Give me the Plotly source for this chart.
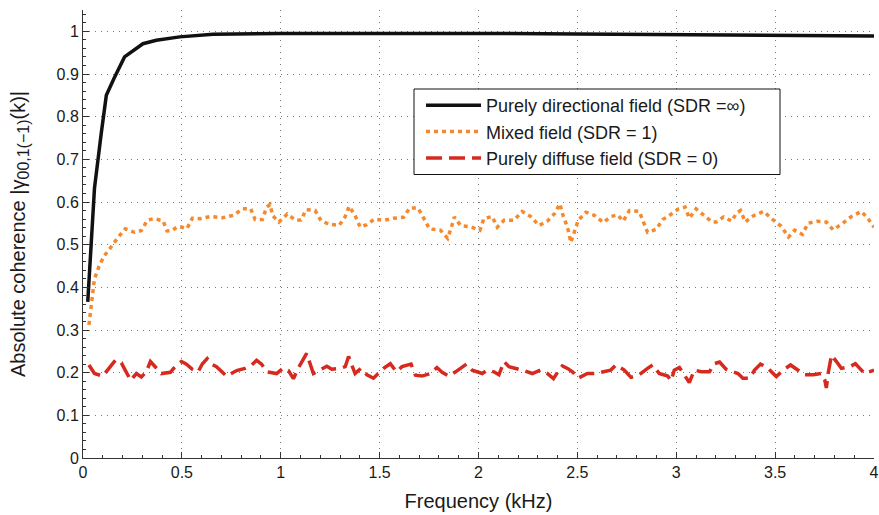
import plotly.graph_objects as go

# ---- data (frequency in kHz, absolute coherence) ----
freq_dir = [0.024, 0.058, 0.092, 0.118, 0.156, 0.210, 0.303, 0.371, 0.489, 0.658,
            1.0, 1.5, 2.0, 2.5, 3.0, 3.5, 3.75, 4.0]
coh_dir = [0.366, 0.632, 0.760, 0.850, 0.889, 0.940, 0.971, 0.979, 0.987, 0.993,
           0.995, 0.996, 0.995, 0.994, 0.993, 0.992, 0.990, 0.989]

freq_mix = [0.030, 0.038, 0.058, 0.080, 0.106, 0.143, 0.177, 0.214, 0.261, 0.295,
            0.325, 0.357, 0.405, 0.425, 0.450, 0.481, 0.526, 0.553, 0.594, 0.645,
            0.704, 0.763, 0.805, 0.848, 0.870, 0.907, 0.929, 0.946, 0.959, 0.991,
            1.033, 1.076, 1.103, 1.128, 1.174, 1.204, 1.243, 1.295, 1.326, 1.346,
            1.376, 1.402, 1.436, 1.474, 1.520, 1.571, 1.621, 1.652, 1.694, 1.723,
            1.752, 1.807, 1.844, 1.863, 1.878, 1.909, 1.965, 2.007, 2.027, 2.069,
            2.095, 2.129, 2.179, 2.221, 2.264, 2.306, 2.348, 2.387, 2.411, 2.429,
            2.450, 2.467, 2.487, 2.504, 2.543, 2.585, 2.631, 2.669, 2.703, 2.732,
            2.763, 2.813, 2.835, 2.855, 2.898, 2.932, 2.970, 3.012, 3.045, 3.066,
            3.100, 3.142, 3.181, 3.202, 3.239, 3.281, 3.303, 3.325, 3.349, 3.391,
            3.442, 3.485, 3.531, 3.568, 3.599, 3.638, 3.666, 3.712, 3.759, 3.793,
            3.839, 3.886, 3.937, 3.971, 4.000]
coh_mix = [0.312, 0.340, 0.420, 0.448, 0.473, 0.495, 0.517, 0.537, 0.529, 0.533,
           0.557, 0.561, 0.556, 0.532, 0.533, 0.543, 0.538, 0.562, 0.561, 0.566,
           0.563, 0.569, 0.584, 0.584, 0.559, 0.559, 0.588, 0.594, 0.568, 0.553,
           0.572, 0.557, 0.558, 0.582, 0.580, 0.556, 0.548, 0.545, 0.566, 0.590,
           0.568, 0.541, 0.547, 0.560, 0.557, 0.562, 0.564, 0.586, 0.586, 0.562,
           0.537, 0.534, 0.515, 0.541, 0.565, 0.545, 0.541, 0.534, 0.561, 0.566,
           0.541, 0.557, 0.557, 0.578, 0.566, 0.545, 0.555, 0.574, 0.596, 0.566,
           0.541, 0.505, 0.530, 0.557, 0.576, 0.569, 0.552, 0.566, 0.570, 0.555,
           0.580, 0.578, 0.552, 0.529, 0.536, 0.559, 0.570, 0.584, 0.588, 0.562,
           0.584, 0.569, 0.553, 0.553, 0.565, 0.555, 0.573, 0.580, 0.553, 0.568,
           0.578, 0.560, 0.543, 0.518, 0.534, 0.524, 0.550, 0.555, 0.553, 0.535,
           0.549, 0.566, 0.578, 0.560, 0.541]

freq_dif = [0.030, 0.058, 0.100, 0.143, 0.165, 0.194, 0.241, 0.270, 0.295, 0.320,
            0.341, 0.396, 0.442, 0.472, 0.498, 0.523, 0.553, 0.582, 0.604, 0.628,
            0.650, 0.675, 0.709, 0.726, 0.777, 0.819, 0.853, 0.878, 0.903, 0.929,
            0.979, 1.013, 1.039, 1.064, 1.089, 1.131, 1.165, 1.199, 1.233, 1.258,
            1.300, 1.326, 1.343, 1.359, 1.376, 1.405, 1.436, 1.469, 1.503, 1.520,
            1.554, 1.585, 1.613, 1.659, 1.681, 1.714, 1.757, 1.790, 1.816, 1.850,
            1.884, 1.909, 1.939, 1.968, 2.019, 2.044, 2.078, 2.103, 2.129, 2.154,
            2.191, 2.221, 2.272, 2.314, 2.348, 2.379, 2.407, 2.424, 2.450, 2.475,
            2.504, 2.551, 2.593, 2.635, 2.669, 2.695, 2.737, 2.771, 2.813, 2.855,
            2.881, 2.914, 2.957, 2.974, 2.990, 3.016, 3.041, 3.066, 3.092, 3.126,
            3.168, 3.193, 3.219, 3.252, 3.312, 3.337, 3.371, 3.396, 3.426, 3.455,
            3.506, 3.540, 3.578, 3.616, 3.649, 3.692, 3.734, 3.751, 3.759, 3.768,
            3.785, 3.810, 3.835, 3.877, 3.906, 3.928, 3.953, 4.000]
coh_dif = [0.218, 0.198, 0.192, 0.218, 0.230, 0.223, 0.182, 0.198, 0.190, 0.202,
           0.226, 0.198, 0.201, 0.218, 0.226, 0.220, 0.208, 0.202, 0.221, 0.233,
           0.220, 0.214, 0.198, 0.192, 0.205, 0.210, 0.218, 0.229, 0.220, 0.202,
           0.198, 0.211, 0.205, 0.186, 0.211, 0.245, 0.198, 0.206, 0.215, 0.208,
           0.210, 0.214, 0.238, 0.218, 0.198, 0.210, 0.195, 0.187, 0.202, 0.210,
           0.221, 0.202, 0.214, 0.220, 0.194, 0.192, 0.198, 0.212, 0.201, 0.192,
           0.202, 0.210, 0.220, 0.206, 0.198, 0.206, 0.202, 0.195, 0.226, 0.214,
           0.210, 0.206, 0.198, 0.206, 0.198, 0.186, 0.206, 0.216, 0.210, 0.202,
           0.187, 0.198, 0.198, 0.203, 0.206, 0.218, 0.206, 0.189, 0.195, 0.210,
           0.218, 0.198, 0.192, 0.181, 0.206, 0.212, 0.195, 0.177, 0.206, 0.202,
           0.202, 0.221, 0.225, 0.208, 0.198, 0.187, 0.187, 0.206, 0.220, 0.214,
           0.191, 0.206, 0.218, 0.206, 0.195, 0.195, 0.198, 0.183, 0.164, 0.198,
           0.241, 0.226, 0.210, 0.214, 0.221, 0.210, 0.198, 0.206]

x_ticks = [0, 0.5, 1, 1.5, 2, 2.5, 3, 3.5, 4]
x_labels = ["0", "0.5", "1", "1.5", "2", "2.5", "3", "3.5", "4"]
y_ticks = [0, 0.1, 0.2, 0.3, 0.4, 0.5, 0.6, 0.7, 0.8, 0.9, 1]
y_labels = ["0", "0.1", "0.2", "0.3", "0.4", "0.5", "0.6", "0.7", "0.8", "0.9", "1"]

FONT = "Liberation Sans, Arial, Helvetica, sans-serif"
TXT = "#1a1a1a"

fig = go.Figure()
fig.add_trace(go.Scatter(x=freq_dif, y=coh_dif, mode="lines",
                         name="Purely diffuse field (SDR = 0)", legendrank=3, legendgroup="c",
                         line=dict(color="#D62A1E", width=3.5, dash="16px,7px")))
fig.add_trace(go.Scatter(x=freq_mix, y=coh_mix, mode="lines",
                         name="Mixed field (SDR = 1)", legendrank=2, legendgroup="b",
                         line=dict(color="#F5892C", width=3.5, dash="4px,4px")))
fig.add_trace(go.Scatter(x=freq_dir, y=coh_dir, mode="lines",
                         name="Purely directional field (SDR =∞)", legendrank=1, legendgroup="a",
                         line=dict(color="#111111", width=3.5)))

axis_common = dict(
    showline=True, linecolor="#333333", linewidth=1, mirror=False,
    ticks="inside", ticklen=6, tickcolor="#333333", automargin=False,
    showgrid=True, gridcolor="#7a7a7a", gridwidth=1, griddash="1px,5px",
    zeroline=False, tickfont=dict(family=FONT, size=16, color=TXT),
)

fig.update_xaxes(range=[0, 4], tickvals=x_ticks, ticktext=x_labels,
                 ticklabeloverflow="allow",
                 minor=dict(ticks="inside", ticklen=3, dtick=0.1, tickcolor="#333333", showgrid=False),
                 title=dict(text="Frequency (kHz)", standoff=13,
                            font=dict(family=FONT, size=20, color=TXT)),
                 **axis_common)
fig.update_yaxes(range=[0, 1.05], tickvals=y_ticks, ticktext=y_labels,
                 minor=dict(ticks="inside", ticklen=3, dtick=0.02, tickcolor="#333333", showgrid=False),
                 title=dict(text="Absolute coherence |γ<sub><span style='font-size:16px'>00,1(−1)</span></sub>(k)|",
                            standoff=25,
                            font=dict(family=FONT, size=20, color=TXT)),
                 **axis_common)

# legend frame
PL, PR, PT, PB = 83, 874, 10, 458
W, H = PR - PL, PB - PT
def px_x(p):
    return (p - PL) / W
def px_y(p):
    return (PB - p) / H

fig.add_shape(type="rect", xref="paper", yref="paper",
              x0=px_x(414), x1=px_x(780), y0=px_y(174.5), y1=px_y(89),
              line=dict(color="#111111", width=1), fillcolor="white", layer="above")

fig.update_layout(
    width=879, height=515,
    margin=dict(l=PL, r=879 - PR, t=PT, b=515 - PB),
    plot_bgcolor="white", paper_bgcolor="white",
    font=dict(family=FONT, color=TXT),
    legend=dict(x=px_x(421), y=px_y(87), xanchor="left", yanchor="top",
                bgcolor="rgba(0,0,0,0)", borderwidth=0, itemwidth=55,
                font=dict(family=FONT, size=18, color=TXT),
                tracegroupgap=0),
    showlegend=True,
)

fig.write_html("out.html")
